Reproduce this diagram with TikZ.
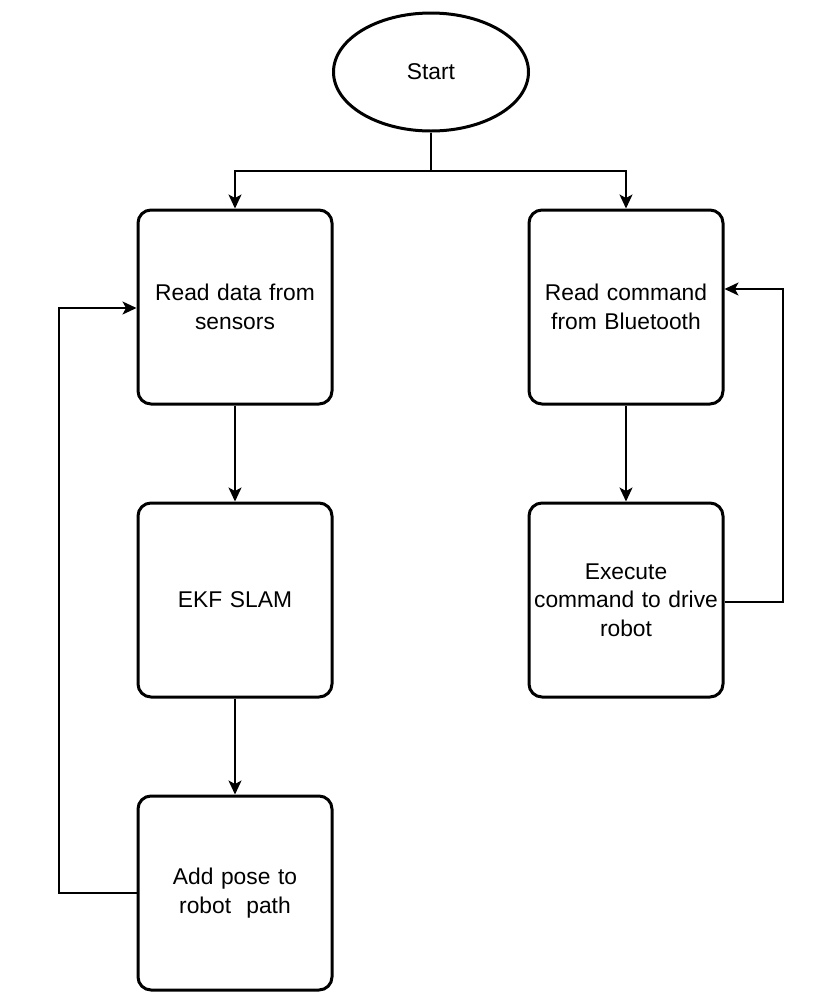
\documentclass[tikz,border=0pt]{standalone}
\usepackage{fontspec}
\setmainfont{Liberation Sans}
\usetikzlibrary{arrows.meta,shapes.geometric}
\begin{document}
\begin{tikzpicture}[x=1pt,y=-1pt,
  every node/.style={font=\fontsize{22.8}{28.5}\selectfont, align=center},
  procbox/.style={draw, line width=3pt, rounded corners=13pt, minimum width=194pt, minimum height=194pt, inner sep=0pt, text width=186pt},
  startnode/.style={draw, ellipse, line width=3pt, minimum width=195pt, minimum height=118pt, inner sep=0pt},
  conn/.style={line width=1.6pt, -{Stealth[length=14pt,width=13pt,inset=3.5pt]}},
  plain/.style={line width=1.6pt}
]
\useasboundingbox (0,0) rectangle (824,1005);
\node[startnode] (start) at (431,72) {Start};
\node[procbox] (sens) at (235,307) {Read data from\\sensors};
\node[procbox] (ekf) at (235,600) {EKF SLAM};
\node[procbox] (pose) at (235,893) {Add pose to\\robot\ \ path};
\node[procbox] (bt) at (626,307) {Read command\\from Bluetooth};
\node[procbox] (exec) at (626,600) {Execute\\command to drive\\robot};
\coordinate (split) at (431,171);
\draw[plain] (start.south) -- (split);
\draw[conn] (split) -| (sens.north);
\draw[conn] (split) -| (bt.north);
\draw[conn] (sens) -- (ekf);
\draw[conn] (ekf) -- (pose);
\draw[conn] (bt) -- (exec);
\coordinate (lb) at (59,893);
\coordinate (lt) at (59,308);
\draw[conn] (pose.west) -- (lb) -- (lt) -- (sens.west |- lt);
\coordinate (rb) at (783,602);
\coordinate (rt) at (783,289);
\draw[conn] (exec.east |- rb) -- (rb) -- (rt) -- (bt.east |- rt);
\end{tikzpicture}
\end{document}
